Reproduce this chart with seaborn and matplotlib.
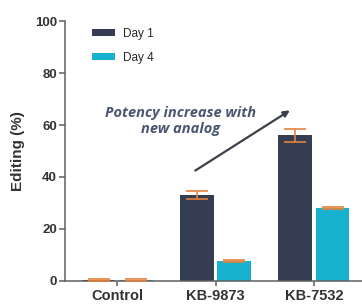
import pandas as pd
import numpy as np
import matplotlib.pyplot as plt
import seaborn as sns

# Data
groups = ['Control', 'KB-9873', 'KB-7532']
days = ['Day 1', 'Day 4']
day1_mean = [0.3, 33.0, 56.0]
day1_err = [0.3, 1.6, 2.6]
day4_mean = [0.3, 7.8, 28.0]
day4_err = [0.3, 0.4, 0.5]

colors = ['#343d52', '#17b2cf']
err_color = '#e8813c'
axis_color = '#5f5f5f'
text_color = '#333333'

df = pd.DataFrame({
    'group': groups * 2,
    'day': [days[0]] * 3 + [days[1]] * 3,
    'editing': day1_mean + day4_mean,
    'err': day1_err + day4_err,
})

sns.set_style('ticks')
plt.rcParams['font.family'] = ['Liberation Sans', 'DejaVu Sans']

fig = plt.figure(figsize=(3.62, 3.06), dpi=100)
ax = fig.add_axes([0.18, 0.082, 0.82, 0.849])

sns.barplot(data=df, x='group', y='editing', hue='day', palette=colors,
            width=0.76, gap=0.1, errorbar=None, saturation=1, ax=ax,
            linewidth=0)

# Error bars on top of each bar
for container, errs in zip(ax.containers, [day1_err, day4_err]):
    for bar, e in zip(container, errs):
        ax.errorbar(bar.get_x() + bar.get_width() / 2, bar.get_height(), yerr=e,
                    color=err_color, capsize=8, elinewidth=1.2, capthick=1.2,
                    zorder=5)

ax.set_ylim(0, 100)
ax.set_xlim(-0.53, 2.49)
ax.set_yticks([0, 20, 40, 60, 80, 100])
ax.set_xlabel('')
ax.set_ylabel('Editing (%)', fontsize=11, fontweight='bold', color=text_color,
              labelpad=7)

for lab in ax.get_yticklabels():
    lab.set_fontweight('bold')
    lab.set_fontsize(9.5)
    lab.set_color(text_color)
for lab in ax.get_xticklabels():
    lab.set_fontweight('bold')
    lab.set_fontsize(10.5)
    lab.set_color(text_color)

sns.despine(ax=ax)
for s in ['left', 'bottom']:
    ax.spines[s].set_color(axis_color)
    ax.spines[s].set_linewidth(1.1)
ax.tick_params(axis='y', length=4, width=1.1, color=axis_color, pad=2)
ax.tick_params(axis='x', length=3.5, width=1.1, color=axis_color, pad=2)

ax.legend(loc='upper left', bbox_to_anchor=(0.09, 0.975), frameon=False,
          fontsize=8.5, handlelength=2.0, handleheight=0.5, labelspacing=1.05,
          handletextpad=0.6, borderpad=0, borderaxespad=0)

ax.annotate('', xy=(1.78, 66.2), xytext=(0.77, 41.9),
            arrowprops=dict(arrowstyle='-|>', color='#3b404b', lw=1.6,
                            mutation_scale=9))
ax.text(0.64, 61.5, 'Potency increase with\nnew analog', ha='center',
        va='center', fontsize=10.5, fontweight='bold', fontstyle='italic',
        color='#4b5670', family=['Open Sans', 'DejaVu Sans'], linespacing=1.15)

plt.savefig('out.png', dpi=100)
